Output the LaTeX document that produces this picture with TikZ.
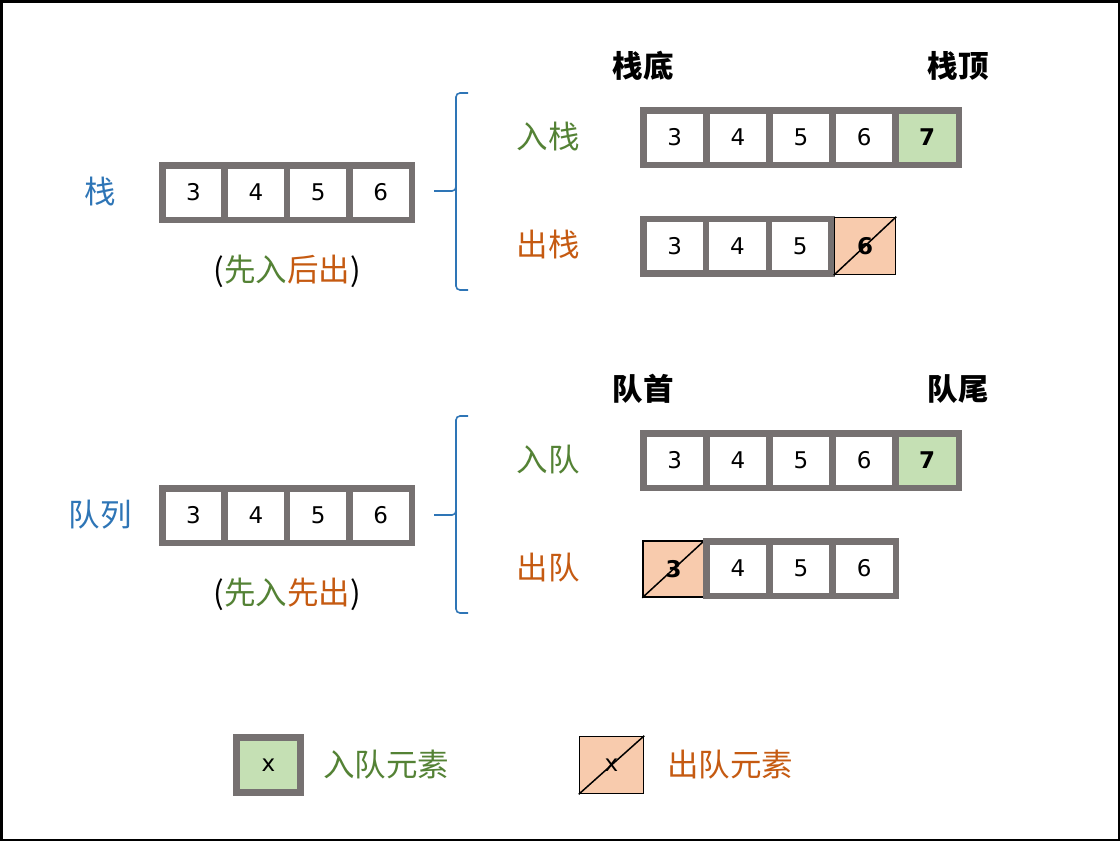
\documentclass[tikz,border=0pt]{standalone}
\usepackage{fontspec}
\setmainfont{DejaVu Sans}
\newfontfamily\cjk{Noto Sans CJK SC}
\definecolor{cellgray}{HTML}{767171}
\definecolor{ingreen}{HTML}{C5E0B4}
\definecolor{outorange}{HTML}{F8CBAD}
\definecolor{tblue}{HTML}{2E75B6}
\definecolor{tgreen}{HTML}{548235}
\definecolor{torange}{HTML}{C55A11}
\begin{document}
\begin{tikzpicture}[x=1pt,y=-1pt,
  cell/.style={draw=cellgray, line width=6.5pt, minimum width=63pt, minimum height=54.5pt, inner sep=0pt, font=\fontsize{23}{23}\selectfont},
  incell/.style={cell, fill=ingreen, font=\fontsize{23}{23}\selectfont\bfseries},
  outcell/.style={draw=black, line width=1.5pt, fill=outorange, minimum width=61pt, minimum height=56pt, inner sep=0pt, font=\fontsize{23}{23}\selectfont\bfseries},
  lbl/.style={font=\cjk\fontsize{31.5}{31.5}\selectfont, inner sep=0pt},
  head/.style={font=\cjk\fontsize{30.5}{30.5}\selectfont\bfseries, inner sep=0pt},
  bracestyle/.style={draw=tblue, line width=1.6pt, rounded corners=4pt}]
\useasboundingbox (0,0) rectangle (1120,841);
\draw[line width=2.5pt] (1.25,1.25) rectangle (1118.75,839.75);

% ---- stack ----
\node[lbl, text=tblue] (stk) at (100,192) {栈};
\foreach \v [count=\i] in {3,4,5,6}
  \node[cell, minimum width=62.4pt] (sa\i) at ({162.25+31.2+62.4*(\i-1)},192.5) {\v};
\node[lbl] (stkrule) at (287,271) {(\textcolor{tgreen}{先入}\textcolor{torange}{后出})};
\coordinate (b1t) at (468,93);
\coordinate (b1m) at (434,191);
\coordinate (b1b) at (468,290);
\draw[bracestyle] (b1t) -- (456,93) -- (456,191) -- (b1m);
\draw[bracestyle] (456,180) -- (456,290) -- (b1b);

\node[head] (sbot) at (643,66) {栈底};
\node[head] (stop) at (958,66) {栈顶};
\node[lbl, text=tgreen] (push) at (548,137) {入栈};
\foreach \v [count=\i] in {3,4,5,6}
  \node[cell, minimum width=63.1pt] (sp\i) at ({643.25+31.55+63.1*(\i-1)},137.5) {\v};
\node[incell, minimum width=63.1pt] (sp5) at ({643.25+31.55+63.1*4},137.5) {7};

\node[lbl, text=torange] (pop) at (548,245) {出栈};
\foreach \v [count=\i] in {3,4,5}
  \node[cell, minimum width=62.8pt] (so\i) at ({643.25+31.4+62.8*(\i-1)},246) {\v};
\node[outcell, minimum width=61pt, minimum height=57pt] (so4) at (865,246) {6};
\draw[line width=1.5pt] (so4.south west) -- (so4.north east);

% ---- queue ----
\node[lbl, text=tblue] (que) at (100,515) {队列};
\foreach \v [count=\i] in {3,4,5,6}
  \node[cell, minimum width=62.4pt] (qa\i) at ({162.25+31.2+62.4*(\i-1)},515.5) {\v};
\node[lbl] (querule) at (287,594) {(\textcolor{tgreen}{先入}\textcolor{torange}{先出})};
\coordinate (b2t) at (468,416);
\coordinate (b2m) at (434,515);
\coordinate (b2b) at (468,613);
\draw[bracestyle] (b2t) -- (456,416) -- (456,515) -- (b2m);
\draw[bracestyle] (456,504) -- (456,613) -- (b2b);

\node[head] (qhead) at (643,389) {队首};
\node[head] (qtail) at (958,389) {队尾};
\node[lbl, text=tgreen] (enq) at (548,460) {入队};
\foreach \v [count=\i] in {3,4,5,6}
  \node[cell, minimum width=63.1pt] (qp\i) at ({643.25+31.55+63.1*(\i-1)},460.5) {\v};
\node[incell, minimum width=63.1pt] (qp5) at ({643.25+31.55+63.1*4},460.5) {7};

\node[lbl, text=torange] (deq) at (548,568) {出队};
\node[outcell] (qo1) at (673.5,569) {3};
\draw[line width=1.5pt] (qo1.south west) -- (qo1.north east);
\foreach \v [count=\i] in {4,5,6}
  \node[cell, minimum width=63.2pt] (qo\the\numexpr\i+1\relax) at ({706.25+31.6+63.2*(\i-1)},568.5) {\v};

% ---- legend ----
\node[cell, fill=ingreen, minimum width=64.3pt, minimum height=55pt] (legin) at (268.5,765) {x};
\node[lbl, text=tgreen] (legintxt) at (386,765) {入队元素};
\node[outcell, minimum width=64pt, minimum height=57pt, font=\fontsize{23}{23}\selectfont] (legout) at (611.5,765) {x};
\draw[line width=1.5pt] (legout.south west) -- (legout.north east);
\node[lbl, text=torange] (legouttxt) at (730,765) {出队元素};
\end{tikzpicture}
\end{document}
